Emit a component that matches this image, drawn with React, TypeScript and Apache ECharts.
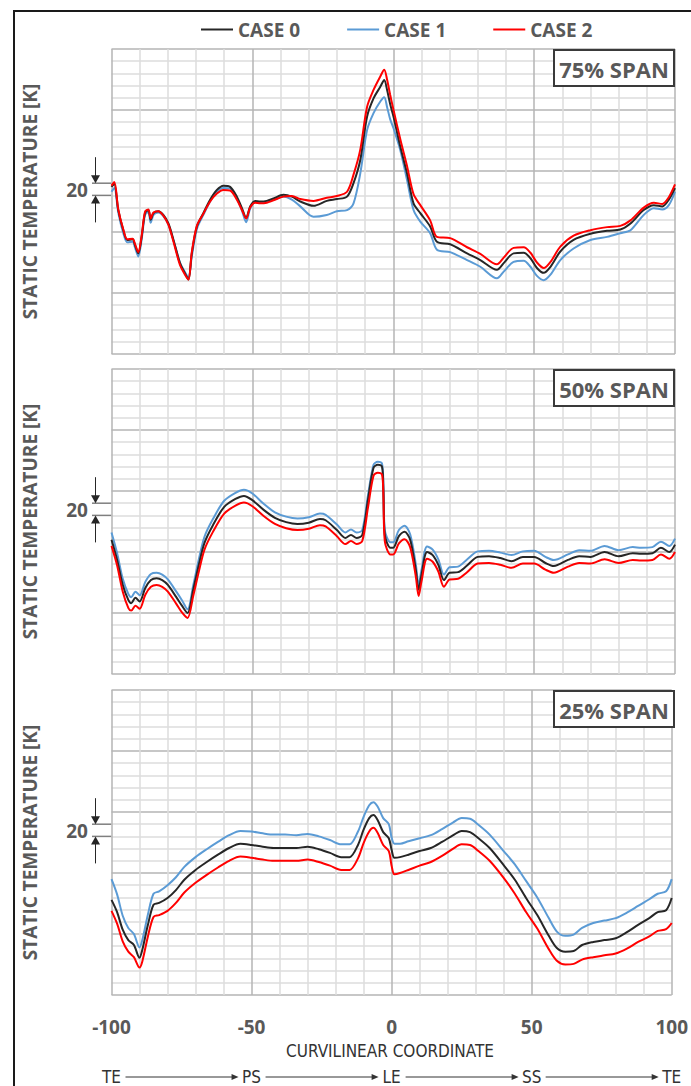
import React, { useEffect, useRef } from 'react';
import * as echarts from 'echarts';

const CASE_NAMES = ['CASE 0', 'CASE 1', 'CASE 2'];
const CASE_COLORS = ['#262626', '#5b9bd5', '#ff0000'];
const SPAN_LABELS = ['75% SPAN', '50% SPAN', '25% SPAN'];
const STATION_LABELS = ['TE', 'PS', 'LE', 'SS', 'TE'];
const STATION_POS = [-100, -50, 0, 50, 100];
const X_NAME = 'CURVILINEAR COORDINATE';
const Y_NAME = 'STATIC TEMPERATURE [K]';
const SCALE_LABEL = '20';
const SCALE_BAND = [260, 280];

// ---- 75% span ----
const P1_X = [-100, -99, -97.6, -95.8, -94.4, -92.5, -91.7, -90.5, -89.3, -88.1, -86.9, -86.1, -85.1, -83.4, -81.6, -79.8, -78, -75.7, -73.9, -72.7, -71.5, -69.7, -67.4, -65, -62.6, -60.3, -57.9, -55.5, -53.7, -52.2, -50.8, -49, -47.2, -44.9, -42.5, -39, -36, -33, -28.3, -23.6, -20, -16.4, -14.1, -11.7, -9.3, -7, -4.6, -3.2, -2.2, -1.1, 0.1, 2.5, 4.9, 7.2, 9.6, 13.1, 15.5, 20.2, 26.2, 30.9, 36.8, 39.2, 42.7, 46.3, 48.7, 51, 53.4, 55.8, 59.3, 64, 70, 75.9, 80.6, 84.2, 88.9, 92.5, 95.5, 97.8, 100];
const P1_CASE0 = [274, 279, 236, 203, 187, 188, 179, 165, 192, 231, 236, 220, 231, 234, 228, 214, 187, 149, 132, 122, 165, 209, 231, 253, 269, 276, 274, 258, 239, 223, 242, 251, 250, 251, 255, 261, 258, 250, 243, 251, 254, 258, 280, 318, 389, 419, 438, 449, 433, 410, 389, 340, 296, 247, 231, 209, 184, 180, 165, 154, 138, 149, 165, 166, 157, 141, 133, 143, 168, 187, 197, 202, 204, 214, 236, 244, 242, 253, 272];
const P1_CASE1 = [266, 272, 232, 198, 183, 184, 175, 160, 188, 228, 233, 215, 228, 232, 226, 212, 186, 150, 134, 125, 160, 205, 228, 250, 266, 272, 271, 255, 235, 216, 238, 249, 248, 250, 253, 258, 253, 242, 225, 228, 234, 236, 247, 296, 367, 395, 414, 421, 405, 385, 370, 334, 285, 236, 217, 198, 171, 167, 154, 143, 124, 135, 151, 153, 143, 128, 121, 130, 154, 173, 187, 192, 198, 203, 228, 239, 237, 244, 266];
const P1_CASE2 = [276, 282, 237, 204, 188, 189, 181, 167, 194, 233, 237, 222, 232, 234, 227, 212, 184, 146, 130, 122, 167, 210, 230, 250, 263, 269, 268, 253, 236, 222, 240, 248, 247, 248, 252, 258, 259, 254, 251, 256, 259, 266, 294, 335, 405, 433, 455, 466, 450, 425, 400, 352, 308, 262, 244, 219, 192, 190, 175, 164, 147, 158, 174, 175, 166, 150, 141, 151, 176, 194, 203, 208, 210, 219, 240, 248, 246, 257, 278];

// ---- 50% span ----
const P2_X = [-100, -98, -96, -94, -93, -91.5, -90, -88, -86, -84, -82, -80, -77, -75, -73, -71, -69, -67, -64, -60, -56, -53, -50, -46, -42, -38, -34, -30, -26, -24, -20, -17, -15, -13, -11, -9, -7, -5.5, -4, -3.5, -3, -1, 0, 2, 4, 6, 8, 9, 10, 12, 14, 16, 18, 20, 23, 26, 30, 34, 38, 42, 46, 50, 54, 57, 62, 66, 70, 75, 80, 85, 88, 92, 95, 98, 100];
const P2_CASE0 = [220, 187, 146, 121, 116, 125, 119, 141, 154, 157, 154, 146, 126, 112, 100, 138, 179, 215, 244, 274, 287, 292, 285, 269, 256, 249, 246, 248, 254, 252, 236, 223, 228, 223, 228, 285, 338, 343, 340, 302, 228, 207, 207, 226, 233, 220, 171, 138, 162, 200, 195, 179, 154, 166, 167, 177, 192, 193, 190, 185, 192, 192, 182, 177, 187, 193, 192, 200, 193, 198, 197, 198, 207, 200, 212];
const P2_CASE1 = [232, 198, 156, 131, 126, 135, 129, 151, 164, 166, 163, 155, 135, 121, 106, 145, 188, 225, 254, 284, 297, 302, 296, 279, 265, 258, 255, 257, 263, 261, 245, 232, 237, 232, 236, 292, 343, 348, 345, 308, 236, 216, 216, 236, 243, 229, 180, 146, 170, 209, 204, 188, 163, 175, 176, 187, 201, 202, 199, 195, 201, 202, 192, 187, 196, 203, 202, 210, 203, 208, 207, 208, 217, 210, 222];
const P2_CASE2 = [210, 178, 135, 108, 104, 112, 107, 130, 143, 146, 143, 135, 115, 101, 92, 128, 168, 204, 233, 263, 276, 281, 275, 259, 246, 239, 236, 238, 244, 242, 226, 213, 218, 213, 218, 272, 325, 330, 327, 292, 218, 196, 196, 214, 221, 208, 160, 128, 151, 189, 184, 168, 143, 155, 156, 166, 181, 182, 179, 174, 181, 181, 171, 166, 176, 182, 181, 188, 182, 187, 186, 187, 196, 189, 200];

// ---- 25% span ----
const P3_X = [-100, -98, -96, -94, -92, -90, -89, -87, -85, -83, -80, -77, -74, -70, -66, -62, -58, -54, -50, -46, -42, -38, -34, -30, -26, -22, -18, -15, -12, -10, -8, -6.5, -5, -3, -1, 0, 1, 3, 6, 10, 14, 18, 22, 25, 28, 31, 35, 40, 44, 48, 52, 56, 59, 62, 65, 68, 72, 76, 80, 84, 88, 92, 95, 98, 100];
const P3_CASE0 = [156, 136, 107, 90, 82, 61, 74, 115, 148, 151, 159, 172, 189, 205, 218, 230, 241, 248, 246, 243, 241, 241, 241, 243, 239, 233, 226, 226, 246, 271, 290, 295, 287, 267, 257, 238, 225, 226, 230, 236, 241, 251, 262, 269, 267, 257, 241, 213, 189, 159, 131, 98, 77, 71, 72, 82, 87, 90, 93, 103, 115, 126, 136, 139, 159];
const P3_CASE1 = [190, 165, 130, 110, 100, 78, 90, 132, 166, 170, 180, 193, 210, 226, 239, 251, 262, 269, 268, 265, 263, 263, 262, 264, 260, 254, 247, 247, 268, 292, 311, 316, 309, 290, 280, 258, 248, 248, 252, 257, 262, 272, 283, 290, 289, 279, 263, 236, 214, 187, 160, 127, 104, 97, 99, 110, 118, 122, 126, 135, 146, 157, 166, 170, 190];
const P3_CASE2 = [138, 117, 88, 71, 62, 45, 55, 96, 128, 131, 138, 151, 168, 184, 197, 209, 220, 227, 225, 222, 220, 220, 220, 222, 218, 212, 205, 205, 224, 249, 268, 274, 266, 246, 236, 212, 198, 200, 205, 212, 218, 228, 240, 247, 246, 236, 220, 192, 166, 136, 109, 76, 56, 50, 51, 58, 62, 65, 68, 76, 87, 96, 105, 108, 118];

const PANELS = [
  { x: P1_X, cases: [P1_CASE0, P1_CASE1, P1_CASE2] },
  { x: P2_X, cases: [P2_CASE0, P2_CASE1, P2_CASE2] },
  { x: P3_X, cases: [P3_CASE0, P3_CASE1, P3_CASE2] },
];

const PANEL_TOPS = [49, 369, 690];
const PANEL_H = 305;
const GRID_LEFT = 111.5;
const GRID_RIGHT = 675;
const FONT = '"Open Sans", "Noto Sans", sans-serif';
const NARROW = '"Liberation Sans Narrow", "DejaVu Sans Condensed", "Open Sans", sans-serif';
const GRAY = '#595959';

export default function App() {
  const ref = useRef<HTMLDivElement>(null);
  useEffect(() => {
    const el = ref.current!;
    const chart = echarts.init(el, null, { renderer: 'svg' });
    const grid = PANEL_TOPS.map((t) => ({ left: GRID_LEFT, top: t, width: GRID_RIGHT - GRID_LEFT, height: PANEL_H }));
    const xAxis = PANEL_TOPS.map((_, i) => ({
      type: 'value', gridIndex: i, min: -100, max: 100, interval: 50,
      axisLine: { show: false }, axisTick: { show: false },
      axisLabel: { show: i === 2, margin: 22, fontFamily: FONT, fontWeight: 'bold', fontSize: 19, color: GRAY },
      splitLine: { show: true, lineStyle: { color: '#b4b4b4', width: 1.5 } },
      minorTick: { show: false, splitNumber: 5 },
      minorSplitLine: { show: true, lineStyle: { color: '#dcdcdc', width: 1.5 } },
    }));
    const yAxis = PANEL_TOPS.map((_, i) => ({
      type: 'value', gridIndex: i, min: 0, max: 500, interval: 100,
      axisLine: { show: false }, axisTick: { show: false }, axisLabel: { show: false },
      splitLine: { show: true, lineStyle: { color: '#b4b4b4', width: 1.5 } },
      minorTick: { show: false, splitNumber: 5 },
      minorSplitLine: { show: true, lineStyle: { color: '#dcdcdc', width: 1.5 } },
    }));
    const drawOrder = [1, 0, 2];
    const series: any[] = [];
    PANELS.forEach((p, i) => {
      drawOrder.forEach((c) => {
        series.push({
          type: 'line', name: CASE_NAMES[c], xAxisIndex: i, yAxisIndex: i,
          data: p.x.map((x, k) => [x, p.cases[c][k]]),
          showSymbol: false, symbol: 'none', smooth: 0.3,
          lineStyle: { color: CASE_COLORS[c], width: 2 }, itemStyle: { color: CASE_COLORS[c] },
        });
      });
    });

    const graphics: any[] = [];
    graphics.push({ type: 'rect', silent: true, z: 100, shape: { x: 14, y: 11, width: 720, height: 1120 }, style: { fill: 'none', stroke: '#1a1a1a', lineWidth: 2 } });
    PANEL_TOPS.forEach((t, i) => {
      graphics.push({
        type: 'text', x: 30, y: t + PANEL_H / 2, rotation: Math.PI / 2, silent: true,
        style: { text: Y_NAME, fontFamily: FONT, fontWeight: 'bold', fontSize: 19, fill: GRAY, align: 'center', verticalAlign: 'middle' },
      });
      graphics.push({
        type: 'group', x: 553, y: t, silent: true, z: 100,
        children: [
          { type: 'rect', z: 100, shape: { x: 1, y: 1, width: 120, height: 36 }, style: { fill: '#ffffff', stroke: '#3a3a3a', lineWidth: 2 } },
          { type: 'text', z: 101, x: 61, y: 19.5, style: { text: SPAN_LABELS[i], fontFamily: FONT, fontWeight: 'bold', fontSize: 22, fill: GRAY, align: 'center', verticalAlign: 'middle' } },
        ],
      });
      const bt = t + ((500 - SCALE_BAND[1]) / 500) * PANEL_H;
      const bb = t + ((500 - SCALE_BAND[0]) / 500) * PANEL_H;
      const ax = 95.5;
      graphics.push({ type: 'line', silent: true, shape: { x1: 92, y1: bt, x2: GRID_LEFT, y2: bt }, style: { stroke: '#7f7f7f', lineWidth: 1.5 } });
      graphics.push({ type: 'line', silent: true, shape: { x1: 92, y1: bb, x2: GRID_LEFT, y2: bb }, style: { stroke: '#7f7f7f', lineWidth: 1.5 } });
      graphics.push({ type: 'line', silent: true, shape: { x1: ax, y1: bt - 26, x2: ax, y2: bt - 6 }, style: { stroke: '#262626', lineWidth: 1 } });
      graphics.push({ type: 'polygon', silent: true, shape: { points: [[ax, bt], [ax - 4.5, bt - 8], [ax + 4.5, bt - 8]] }, style: { fill: '#262626' } });
      graphics.push({ type: 'line', silent: true, shape: { x1: ax, y1: bb + 6, x2: ax, y2: bb + 27 }, style: { stroke: '#262626', lineWidth: 1 } });
      graphics.push({ type: 'polygon', silent: true, shape: { points: [[ax, bb], [ax - 4.5, bb + 8], [ax + 4.5, bb + 8]] }, style: { fill: '#262626' } });
      graphics.push({
        type: 'text', x: 77, y: (bt + bb) / 2 + 0.5, silent: true,
        style: { text: SCALE_LABEL, fontFamily: FONT, fontWeight: 'bold', fontSize: 19, fill: GRAY, align: 'center', verticalAlign: 'middle' },
      });
    });
    graphics.push({
      type: 'text', x: 390, y: 1051, silent: true,
      style: { text: X_NAME, fontFamily: NARROW, fontSize: 17, fill: '#333333', align: 'center', verticalAlign: 'middle' },
    });

    const option: any = {
      animation: false,
      backgroundColor: '#ffffff',
      grid, xAxis, yAxis, series,
      legend: {
        data: CASE_NAMES, left: 196, top: 15, itemWidth: 32, itemHeight: 2, itemGap: 47, icon: 'rect', selectedMode: false,
        textStyle: { fontFamily: FONT, fontWeight: 'bold', fontSize: 19, color: GRAY },
      },
      graphic: graphics,
    };
    chart.setOption(option);

    // station labels along the bottom, placed through the bottom x axis scale
    const rowY = 1077;
    const cx = STATION_POS.map((v) => chart.convertToPixel({ xAxisIndex: 2 }, v) as number);
    const extra: any[] = [];
    STATION_LABELS.forEach((s, i) => {
      extra.push({
        type: 'text', x: cx[i], y: rowY, silent: true,
        style: { text: s, fontFamily: NARROW, fontSize: 17, fill: '#333333', align: 'center', verticalAlign: 'middle' },
      });
      if (i < STATION_LABELS.length - 1) {
        const x1 = cx[i] + 14;
        const x2 = cx[i + 1] - 13;
        extra.push({ type: 'line', silent: true, shape: { x1, y1: rowY, x2: x2 - 4, y2: rowY }, style: { stroke: '#333333', lineWidth: 1 } });
        extra.push({ type: 'polygon', silent: true, shape: { points: [[x2, rowY], [x2 - 7, rowY - 3], [x2 - 7, rowY + 3]] }, style: { fill: '#333333' } });
      }
    });
    chart.setOption({ graphic: graphics.concat(extra) });

    return () => chart.dispose();
  }, []);
  return <div ref={ref} style={{ position: 'absolute', left: 0, top: 0, width: 691, height: 1086 }} />;
}
